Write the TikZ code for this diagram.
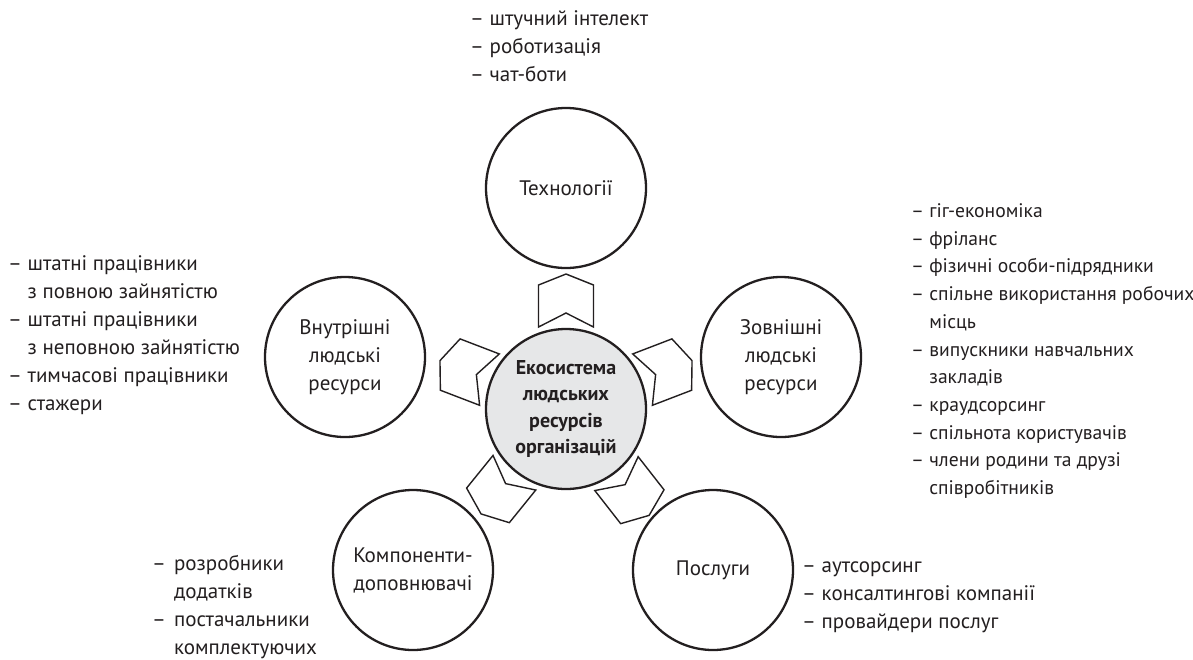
\documentclass[tikz,border=0pt]{standalone}
\usepackage{fontspec}
\setmainfont{PT Sans}
\definecolor{ink}{HTML}{231F20}
\definecolor{hub}{HTML}{E6E7E8}
\tikzset{
  every node/.style={text=ink, font=\fontsize{21}{28}\selectfont},
  circ/.style={circle, draw=ink, line width=2.3pt, minimum size=160pt, inner sep=0pt, align=center, fill=white},
  chev/.style={draw=ink, line width=1.4pt, line join=miter},
  lst/.style={anchor=base west, inner sep=0pt},
}
\newcommand\chevron[2]{%
  \begin{scope}[shift={(#1)}, rotate=#2, x=1pt, y=1pt]
    \draw[chev] (135,0) -- (124,27.5) -- (82,27.5) -- (96,0) -- (82,-27.5) -- (124,-27.5) -- cycle;
  \end{scope}}
\begin{document}
\begin{tikzpicture}[x=1pt, y=-1pt]
  \path[fill=white] (0,0) rectangle (1193,659);
  \useasboundingbox (0,0) rectangle (1193,659);

  \node[circ, fill=hub, font=\bfseries\fontsize{20}{26.5}\selectfont] (C) at (566,409) {Екосистема\\людських\\ресурсів\\організацій};
  \node[circ] (T) at (566,188) {Технології};
  \node[circ] (Z) at (781,357) {Зовнішні\\людські\\ресурси};
  \node[circ] (P) at (713,570) {Послуги};
  \node[circ] (K) at (413,570) {Компоненти-\\доповнювачі};
  \node[circ] (V) at (345,357) {Внутрішні\\людські\\ресурси};

  \chevron{C}{90}
  \chevron{C}{21}
  \chevron{C}{-52}
  \chevron{C}{-129}
  \chevron{C}{159}

  \node[lst] (tl) at (470,25.5) {\begin{tabular}[t]{@{}l@{ }l@{}}
    – & штучний інтелект\\
    – & роботизація\\
    – & чат-боти
  \end{tabular}};

  \node[lst, font=\fontsize{19.6}{27.7}\selectfont] (zl) at (911,217.5) {\begin{tabular}[t]{@{}l@{ }l@{}}
    – & гіг-економіка\\
    – & фріланс\\
    – & фізичні особи-підрядники\\
    – & спільне використання робочих\\
      & місць\\
    – & випускники навчальних\\
      & закладів\\
    – & краудсорсинг\\
    – & спільнота користувачів\\
    – & члени родини та друзі\\
      & співробітників
  \end{tabular}};

  \node[lst] (vl) at (8,270.5) {\begin{tabular}[t]{@{}l@{ }l@{}}
    – & штатні працівники\\
      & з повною зайнятістю\\
    – & штатні працівники\\
      & з неповною зайнятістю\\
    – & тимчасові працівники\\
    – & стажери
  \end{tabular}};

  \node[lst] (kl) at (152,570.5) {\begin{tabular}[t]{@{}l@{\hspace{8pt}}l@{}}
    – & розробники\\
      & додатків\\
    – & постачальники\\
      & комплектуючих
  \end{tabular}};

  \node[lst] (pl) at (802,572.5) {\begin{tabular}[t]{@{}l@{ }l@{}}
    – & аутсорсинг\\
    – & консалтингові компанії\\
    – & провайдери послуг
  \end{tabular}};
\end{tikzpicture}
\end{document}
